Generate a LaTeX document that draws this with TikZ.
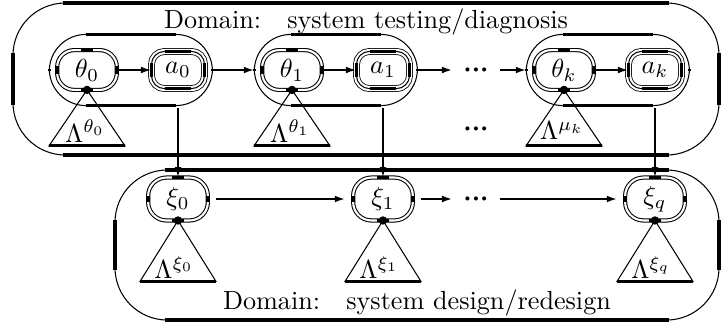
\documentclass[tikz,border=0pt]{standalone}
\usepackage{amsmath, amssymb}
\usepackage{tikz}
\usetikzlibrary{fit,arrows.meta}

% thick straight parts of a rounded box
\newcommand{\straights}[3]{%
  \draw[thickside] ([xshift=#2]#1.north west) -- ([xshift=-#2]#1.north east)
                   ([xshift=#2]#1.south west) -- ([xshift=-#2]#1.south east)
                   ([yshift=-#3]#1.north west) -- ([yshift=#3]#1.south west)
                   ([yshift=-#3]#1.north east) -- ([yshift=#3]#1.south east);}
\newcommand{\threedots}{{\boldmath$\mathord{\cdot}\mathord{\cdot}\mathord{\cdot}$}}

\begin{document}
\begin{tikzpicture}[x=0.382pt, y=-0.382pt, line width=0.4pt,
  thnode/.style={draw, double, double distance=0.8pt, rounded corners=6.5pt,
    minimum width=22.8pt, minimum height=15.2pt, inner sep=0pt, outer sep=0pt},
  anode/.style={draw, double, double distance=2pt, line width=0.3pt, rounded corners=5pt,
    minimum width=20.3pt, minimum height=14.2pt, inner sep=0pt, outer sep=0pt},
  xinode/.style={draw, double, double distance=0.8pt, rounded corners=7pt,
    minimum width=22.8pt, minimum height=16.4pt, inner sep=0pt, outer sep=0pt},
  pairbox/.style={draw, rounded corners=14pt, inner xsep=3pt, inner ysep=6pt, outer sep=0pt},
  areabox/.style={draw, rounded corners=20pt, inner sep=0pt, outer sep=0pt},
  thickside/.style={line width=1.2pt},
  arr/.style={-{Latex[length=4pt,width=2.6pt]}, line width=1pt},
  dotsnode/.style={text height=5pt, text depth=0pt, inner xsep=0pt, inner ysep=0pt}]

  \useasboundingbox (0,0) rectangle (721,322);

  % domains
  \node[areabox, fit={(13,3)(719,155)}] (test) {};
  \node[areabox, fit={(115,170)(719,320)}] (design) {};
  \straights{test}{19pt}{19pt}
  \straights{design}{19pt}{19pt}
  \node[inner sep=0pt] (testlabel) at (366,22) {Domain:\hspace{10pt}system testing/diagnosis};
  \node[inner sep=0pt] (designlabel) at (417,303) {Domain:\hspace{10pt}system design/redesign};

  % testing chain
  \node[thnode] (t0) at (87,70) {$\theta_0$};
  \node[anode] (a0) at (178,70) {$a_0$};
  \node[thnode] (t1) at (292,70) {$\theta_1$};
  \node[anode] (a1) at (383,70) {$a_1$};
  \node[thnode] (tk) at (564,70) {$\theta_k$};
  \node[anode] (ak) at (655,70) {$a_k$};
  \node[dotsnode] (dt) at (476,70) {\threedots};
  \node[dotsnode] (dm) at (476,129) {\threedots};

  \node[pairbox, fit=(t0)(a0)] (g0) {};
  \node[pairbox, fit=(t1)(a1)] (g1) {};
  \node[pairbox, fit=(tk)(ak)] (gk) {};
  \foreach \g in {g0, g1, gk} {\straights{\g}{14pt}{14pt}}
  \foreach \n in {t0, t1, tk} {\straights{\n}{9pt}{6pt}}
  \foreach \n in {a0, a1, ak} {
    \draw[rounded corners=5pt] (\n.north west) rectangle (\n.south east);
    \straights{\n}{5pt}{4.5pt}
  }

  \draw[arr] (t0.east) -- (a0.west);
  \draw[arr] (g0.east) -- (g1.west);
  \draw[arr] (t1.east) -- (a1.west);
  \draw[arr] (g1.east) -- ([xshift=-4pt]dt.west);
  \draw[arr] ([xshift=4pt]dt.east) -- (gk.west);
  \draw[arr] (tk.east) -- (ak.west);

  \foreach \n/\s in {t0/\theta_0, t1/\theta_1, tk/\mu_k} {
    \draw (\n.south) -- ++(-38,56) coordinate (bl) -- ++(76,0) coordinate (br) -- cycle;
    \draw[thickside] (bl) -- (br);
    \fill (\n.south) circle (1.6pt);
    \path (\n.south) ++(-2,41) node (l\n) {$\Lambda^{\s}$};
  }

  % design chain
  \node[xinode] (x0) at (178,199) {$\xi_0$};
  \node[xinode] (x1) at (383,199) {$\xi_1$};
  \node[xinode] (xq) at (655,199) {$\xi_q$};
  \node[dotsnode] (dx) at (476,199) {\threedots};
  \foreach \n in {x0, x1, xq} {\straights{\n}{9pt}{7pt}}

  \draw[arr, shorten <=3pt, shorten >=3pt] (x0.east) -- (x1.west);
  \draw[arr, shorten <=3pt] (x1.east) -- ([xshift=-4pt]dx.west);
  \draw[arr, shorten >=3pt] ([xshift=4pt]dx.east) -- (xq.west);

  \foreach \n/\s in {x0/\xi_0, x1/\xi_1, xq/\xi_q} {
    \draw (\n.south) -- ++(-38,61) coordinate (bl) -- ++(76,0) coordinate (br) -- cycle;
    \draw[thickside] (bl) -- (br);
    \fill (\n.south) circle (1.6pt);
    \path (\n.south) ++(-4,47) node (l\n) {$\Lambda^{\s}$};
  }

  % from testing to design
  \draw[arr, shorten <=1pt] (g0.south -| a0) -- (x0.north);
  \draw[arr, shorten <=1pt] (g1.south -| a1) -- (x1.north);
  \draw[arr, shorten <=1pt] (gk.south -| ak) -- (xq.north);
\end{tikzpicture}
\end{document}
